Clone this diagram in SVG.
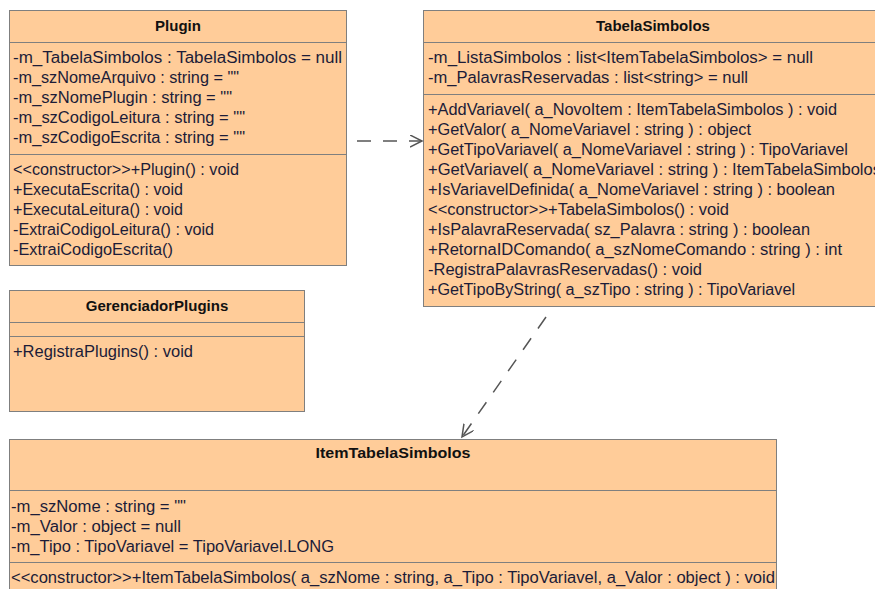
<svg xmlns="http://www.w3.org/2000/svg" width="875" height="589" viewBox="0 0 875 589">
<style>
.box{fill:#ffcc99;stroke:#7f7f7f;stroke-width:1}
.sep{stroke:#7f7f7f;stroke-width:1}
.t{font-family:"Liberation Sans",Arial,sans-serif;font-size:16px;fill:#1c1c38}
.h{font-family:"Liberation Sans",Arial,sans-serif;font-size:15px;font-weight:bold;fill:#111;text-anchor:middle}
.dep{fill:none;stroke:#555;stroke-width:1.5;stroke-dasharray:14 12}
</style>
<defs>
<marker id="open" markerUnits="userSpaceOnUse" markerWidth="14" markerHeight="14" refX="12" refY="6" orient="auto">
<path d="M0,0 L12,6 L0,12" fill="none" stroke="#555" stroke-width="1.5"/>
</marker>
</defs>
<rect width="875" height="589" fill="#fff"/>
<g id="Plugin">
<rect class="box" x="9.5" y="10.5" width="337" height="255"/>
<line class="sep" x1="9.5" y1="42.5" x2="346.5" y2="42.5"/>
<line class="sep" x1="9.5" y1="154.5" x2="346.5" y2="154.5"/>
<text class="h" x="178" y="31">Plugin</text>
<text class="t" x="13" y="63" textLength="329" lengthAdjust="spacingAndGlyphs">-m_TabelaSimbolos : TabelaSimbolos = null</text>
<text class="t" x="13" y="83" textLength="226" lengthAdjust="spacingAndGlyphs">-m_szNomeArquivo : string = ""</text>
<text class="t" x="13" y="103" textLength="219" lengthAdjust="spacingAndGlyphs">-m_szNomePlugin : string = ""</text>
<text class="t" x="13" y="123" textLength="232" lengthAdjust="spacingAndGlyphs">-m_szCodigoLeitura : string = ""</text>
<text class="t" x="13" y="143" textLength="232" lengthAdjust="spacingAndGlyphs">-m_szCodigoEscrita : string = ""</text>
<text class="t" x="13" y="175" textLength="226" lengthAdjust="spacingAndGlyphs">&lt;&lt;constructor&gt;&gt;+Plugin() : void</text>
<text class="t" x="13" y="195" textLength="170" lengthAdjust="spacingAndGlyphs">+ExecutaEscrita() : void</text>
<text class="t" x="13" y="215" textLength="170" lengthAdjust="spacingAndGlyphs">+ExecutaLeitura() : void</text>
<text class="t" x="13" y="235" textLength="201" lengthAdjust="spacingAndGlyphs">-ExtraiCodigoLeitura() : void</text>
<text class="t" x="13" y="255" textLength="160" lengthAdjust="spacingAndGlyphs">-ExtraiCodigoEscrita()</text>
</g>
<g id="TabelaSimbolos">
<rect class="box" x="423.5" y="10.5" width="460" height="296"/>
<line class="sep" x1="423.5" y1="42.5" x2="883.5" y2="42.5"/>
<line class="sep" x1="423.5" y1="94.5" x2="883.5" y2="94.5"/>
<text class="h" x="653" y="31">TabelaSimbolos</text>
<text class="t" x="428" y="63" textLength="385" lengthAdjust="spacingAndGlyphs">-m_ListaSimbolos : list&lt;ItemTabelaSimbolos&gt; = null</text>
<text class="t" x="428" y="83" textLength="320" lengthAdjust="spacingAndGlyphs">-m_PalavrasReservadas : list&lt;string&gt; = null</text>
<text class="t" x="428" y="115" textLength="409" lengthAdjust="spacingAndGlyphs">+AddVariavel( a_NovoItem : ItemTabelaSimbolos ) : void</text>
<text class="t" x="428" y="135" textLength="323" lengthAdjust="spacingAndGlyphs">+GetValor( a_NomeVariavel : string ) : object</text>
<text class="t" x="428" y="155" textLength="420" lengthAdjust="spacingAndGlyphs">+GetTipoVariavel( a_NomeVariavel : string ) : TipoVariavel</text>
<text class="t" x="428" y="175" textLength="453" lengthAdjust="spacingAndGlyphs">+GetVariavel( a_NomeVariavel : string ) : ItemTabelaSimbolos</text>
<text class="t" x="428" y="195" textLength="407" lengthAdjust="spacingAndGlyphs">+IsVariavelDefinida( a_NomeVariavel : string ) : boolean</text>
<text class="t" x="428" y="215" textLength="301" lengthAdjust="spacingAndGlyphs">&lt;&lt;constructor&gt;&gt;+TabelaSimbolos() : void</text>
<text class="t" x="428" y="235" textLength="382" lengthAdjust="spacingAndGlyphs">+IsPalavraReservada( sz_Palavra : string ) : boolean</text>
<text class="t" x="428" y="255" textLength="414" lengthAdjust="spacingAndGlyphs">+RetornaIDComando( a_szNomeComando : string ) : int</text>
<text class="t" x="428" y="275" textLength="274" lengthAdjust="spacingAndGlyphs">-RegistraPalavrasReservadas() : void</text>
<text class="t" x="428" y="295" textLength="367" lengthAdjust="spacingAndGlyphs">+GetTipoByString( a_szTipo : string ) : TipoVariavel</text>
</g>
<g id="GerenciadorPlugins">
<rect class="box" x="9.5" y="290.5" width="295" height="121"/>
<line class="sep" x1="9.5" y1="322.5" x2="304.5" y2="322.5"/>
<line class="sep" x1="9.5" y1="336.5" x2="304.5" y2="336.5"/>
<text class="h" x="157" y="311">GerenciadorPlugins</text>
<text class="t" x="13" y="357" textLength="180" lengthAdjust="spacingAndGlyphs">+RegistraPlugins() : void</text>
</g>
<g id="ItemTabelaSimbolos">
<rect class="box" x="9.5" y="439.5" width="767" height="160"/>
<line class="sep" x1="9.5" y1="490.5" x2="776.5" y2="490.5"/>
<line class="sep" x1="9.5" y1="562.5" x2="776.5" y2="562.5"/>
<text class="h" x="393" y="458" textLength="155" lengthAdjust="spacingAndGlyphs">ItemTabelaSimbolos</text>
<text class="t" x="11" y="512" textLength="175" lengthAdjust="spacingAndGlyphs">-m_szNome : string = ""</text>
<text class="t" x="11" y="532" textLength="170" lengthAdjust="spacingAndGlyphs">-m_Valor : object = null</text>
<text class="t" x="11" y="552" textLength="323" lengthAdjust="spacingAndGlyphs">-m_Tipo : TipoVariavel = TipoVariavel.LONG</text>
<text class="t" x="11" y="583" textLength="764" lengthAdjust="spacingAndGlyphs">&lt;&lt;constructor&gt;&gt;+ItemTabelaSimbolos( a_szNome : string, a_Tipo : TipoVariavel, a_Valor : object ) : void</text>
</g>
<g id="connectors">
<line class="dep" x1="357" y1="141" x2="422" y2="141" marker-end="url(#open)"/>
<line class="dep" x1="546" y1="317" x2="462" y2="437" marker-end="url(#open)"/>
</g>
</svg>
